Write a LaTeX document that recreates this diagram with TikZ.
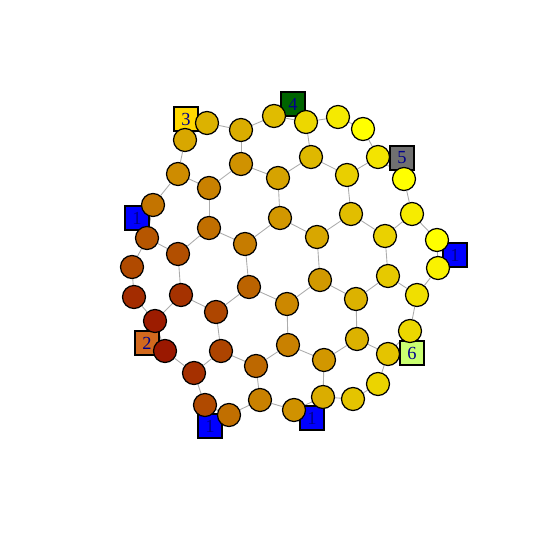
\documentclass[tikz,border=0pt]{standalone}
\usepackage{fontspec}
\setmainfont{Liberation Serif}

\pgfdeclarelayer{archi}
\pgfdeclarelayer{quadrati}
\pgfsetlayers{archi,quadrati,main}

\tikzset{
  atomo/.style={circle, draw=black, line width=0.7pt, minimum size=0.46cm, inner sep=0pt},
  etichetta/.style={rectangle, draw=black, line width=0.6pt, minimum size=0.48cm, inner sep=0pt,
    text={rgb,255:red,0;green,0;blue,139}, font=\fontsize{10.5}{10.5}\selectfont},
  arco/.style={draw=gray!65, line width=0.5pt}
}

\begin{document}
\begin{tikzpicture}[x=0.02cm, y=-0.02cm]
        \useasboundingbox (0,0) rectangle (550,550);

        % Anello esterno
        \foreach \n/\x/\y/\c in {o1/207/123/DCB200, o2/241/130/DAAD00, o3/274/116/E0BC00,
            o4/306/122/ECD700, o5/338/117/F5EA00, o6/363/129/FFFF00, o7/378/157/F3E400,
            o8/404/179/FFFF00, o9/412/214/F6EC00, o10/437/240/FFFF00, o11/438/268/F9F200,
            o12/417/295/F0DF00, o13/410/331/ECD700, o14/388/354/E4C400, o15/378/384/EBD400,
            o16/353/399/E4C400, o17/323/397/DAAD00, o18/294/410/D09200, o19/260/400/C98100,
            o20/229/415/C16F00, o21/205/405/B04A00, o22/194/373/A53000, o23/165/351/9A1800,
            o24/155/321/9C1C00, o25/134/297/A32C00, o26/132/267/B04A00, o27/147/238/B65600,
            o28/153/205/C37400, o29/178/174/CE8C00, o30/185/140/D8A700} {
          \definecolor{col}{HTML}{\c}
          \node[atomo, fill=col] (\n) at (\x,\y) {};
        }

        % Anello interno
        \foreach \n/\x/\y/\c in {r1/241/164/D09200, r2/278/178/D6A300, r3/311/157/DEB800,
            r4/347/175/E9CF00, r5/351/214/E1BE00, r6/385/236/EAD100, r7/388/276/E6C900,
            r8/356/299/DCB200, r9/357/339/DCB200, r10/324/360/D29700, r11/288/345/C98100,
            r12/256/366/BD6800, r13/221/351/AD4400, r14/216/312/AE4600, r15/181/295/A53200,
            r16/178/254/B24F00, r17/209/228/C16F00, r18/209/188/C98100} {
          \definecolor{col}{HTML}{\c}
          \node[atomo, fill=col] (\n) at (\x,\y) {};
        }

        % Esagono centrale
        \foreach \n/\x/\y/\c in {c1/245/244/C67C00, c2/280/218/D29700, c3/317/237/D8A700,
            c4/320/280/D29900, c5/287/304/CC8800, c6/249/287/BB6300} {
          \definecolor{col}{HTML}{\c}
          \node[atomo, fill=col] (\n) at (\x,\y) {};
        }

        % Quadrati con etichetta
        \begin{pgfonlayer}{quadrati}
          \foreach \n/\x/\y/\c/\t in {s3/186/119/FFD700/3, s4/293/104/006400/4, s5/402/158/707070/5,
              s1a/455/255/0000FF/1, s6/412/353/CAFF70/6, s1b/312/418/0000FF/1,
              s1c/210/426/0000FF/1, s2/147/343/D2691E/2, s1d/137/218/0000FF/1} {
            \definecolor{col}{HTML}{\c}
            \node[etichetta, fill=col] (\n) at (\x,\y) {\t};
          }
        \end{pgfonlayer}

        % Archi
        \begin{pgfonlayer}{archi}
          \foreach \i in {1,...,30} {
            \pgfmathtruncatemacro{\j}{mod(\i,30)+1}
            \draw[arco] (o\i) -- (o\j);
          }
          \foreach \i in {1,...,18} {
            \pgfmathtruncatemacro{\j}{mod(\i,18)+1}
            \draw[arco] (r\i) -- (r\j);
          }
          \foreach \i in {1,...,6} {
            \pgfmathtruncatemacro{\j}{mod(\i,6)+1}
            \draw[arco] (c\i) -- (c\j);
          }
          \foreach \a/\b in {o2/r1, o4/r3, o7/r4, o9/r6, o12/r7, o14/r9, o17/r10, o19/r12,
              o22/r13, o24/r15, o27/r16, o29/r18, r2/c2, r5/c3, r8/c4, r11/c5, r14/c6, r17/c1}
            \draw[arco] (\a) -- (\b);
        \end{pgfonlayer}
\end{tikzpicture}
\end{document}
